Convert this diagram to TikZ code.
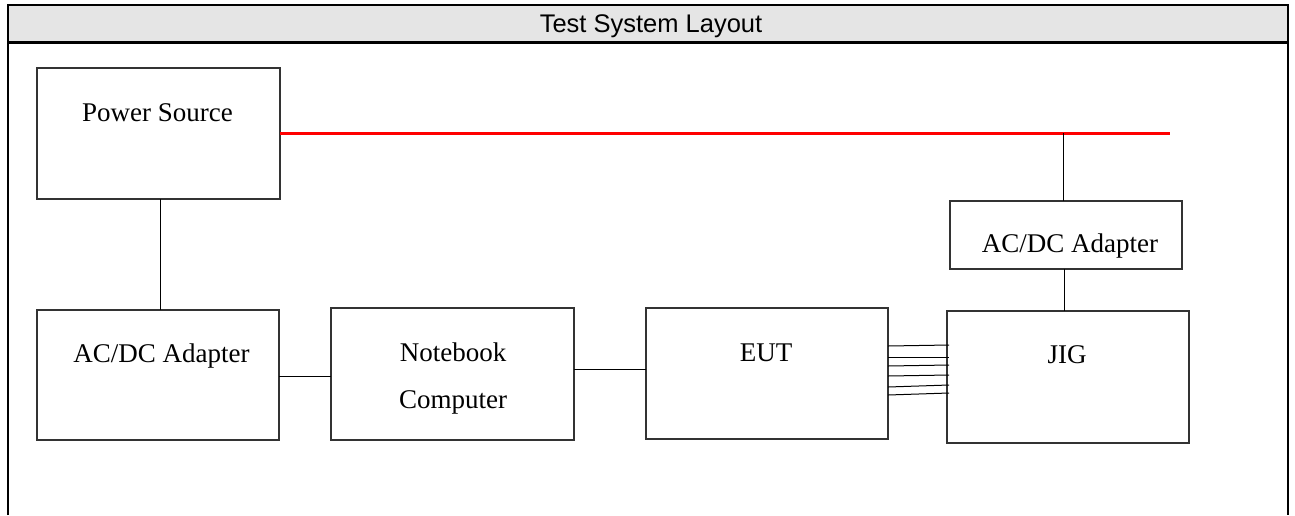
\documentclass[tikz,border=0pt]{standalone}
\usepackage{fontspec}
\setmainfont{Liberation Serif}
\newfontfamily\arialfont{Liberation Sans}
\begin{document}
\begin{tikzpicture}[x=1pt,y=-1pt,
  blk/.style={draw=black!80,line width=1.3pt},
  lbl/.style={anchor=base,inner sep=0pt,font=\fontsize{27}{30}\selectfont},
  wire/.style={draw=black,line width=1pt},
  power/.style={draw=red,line width=3pt}]
\useasboundingbox (0,0) rectangle (1295,515);
% outer frame and header
\fill[black!10] (8,5) rectangle (1288,42);
\draw[line width=2pt] (8,515) -- (8,5) -- (1288,5) -- (1288,515);
\draw[line width=3.3pt] (8,42.5) -- (1288,42.5);
\node[anchor=base,inner sep=0pt,font=\arialfont\fontsize{25.5}{28}\selectfont] (title) at (651,32) {Test System Layout};

% boxes
\draw[blk] (37,68) rectangle (280,199);
\coordinate (psS) at (160,199);
\coordinate (psE) at (280,133);
\node[lbl] (ps) at (157.5,121) {Power Source};

\draw[blk] (37,310) rectangle (279,440);
\node[lbl] (ad1) at (161.5,362) {AC/DC Adapter};

\draw[blk] (331,308) rectangle (574,440);
\node[lbl] (nb1) at (453,361) {Notebook};
\node[lbl] (nb2) at (453,408) {Computer};

\draw[blk] (646,308) rectangle (888,439);
\node[lbl] (eut) at (766,361) {EUT};

\draw[blk] (947,311) rectangle (1189,443);
\node[lbl] (jig) at (1067,363) {JIG};

\draw[blk] (950,201) rectangle (1182,269);
\node[lbl] (ad2) at (1070,252) {AC/DC Adapter};

% connection points
\coordinate (ad1N) at (160,310);
\coordinate (ad1E) at (279,376);
\coordinate (nbW) at (331,376);
\coordinate (nbE) at (574,369);
\coordinate (eutW) at (646,369);
\coordinate (busE) at (1170,133);
\coordinate (busT) at (1063,133);
\coordinate (ad2N) at (1063,201);
\coordinate (ad2S) at (1064,269);
\coordinate (jigN) at (1064,311);

% mains line
\draw[power] (psE) -- (busE);

% wiring
\draw[wire] (psS) -- (ad1N);
\draw[wire] (ad1E) -- (nbW);
\draw[wire] (nbE) -- (eutW);
\draw[wire] (busT) -- (ad2N);
\draw[wire] (ad2S) -- (jigN);

% multi-wire harness between EUT and JIG
\foreach \ya/\yb [count=\i] in {346/345,357/357,366/365,376/375,387/385,395/393}{
  \coordinate (h\i a) at (888,\ya);
  \coordinate (h\i b) at (949,\yb);
  \draw[wire] (h\i a) -- (h\i b);
}
\end{tikzpicture}
\end{document}
